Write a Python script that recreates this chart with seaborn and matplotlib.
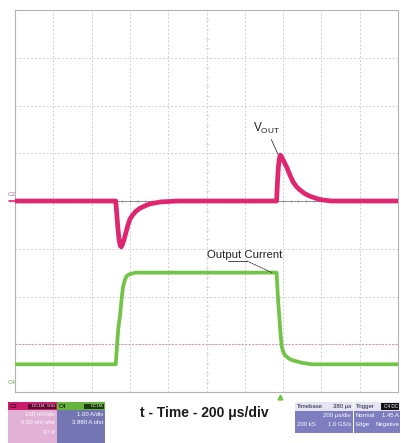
import numpy as np
import pandas as pd
import matplotlib
matplotlib.use("Agg")
import matplotlib.pyplot as plt
import matplotlib.transforms as mtransforms
from matplotlib.patches import Rectangle
import seaborn as sns

# ---------------- data ----------------
# Output voltage deviation (mV, 100 mV/div), time in microseconds (200 us/div)
vout_t = [0, 526, 531, 537, 543, 549, 555, 562, 570, 580, 590, 600, 615, 630, 653, 680,
          705, 760, 850, 1000, 1200, 1366, 1370, 1375, 1380, 1385, 1392, 1400, 1410, 1420,
          1435, 1452, 1470, 1488, 1515, 1540, 1593, 1650, 1800, 2000]
vout_mv = [0, 0, -25, -55, -80, -93, -96, -90, -80, -65, -50, -38, -29, -22, -15, -10,
           -6, -2, 0, 0, 0, 0, 35, 70, 88, 96, 93, 86, 78, 70,
           55, 40, 30, 23, 15, 10, 3, 0, 0, 0]

# Output current (A, 1 A/div)
iout_t = [0, 526, 530, 535, 540, 548, 556, 564, 575, 583, 600, 630, 800, 1000, 1200, 1366,
          1370, 1375, 1380, 1387, 1393, 1400, 1410, 1430, 1452, 1500, 1550, 1800, 2000]
iout_a = [0.08, 0.08, 0.3, 0.6, 0.85, 1.08, 1.42, 1.7, 1.86, 1.93, 1.97, 2.0, 2.0, 2.0, 2.0, 2.0,
          1.7, 1.35, 1.08, 0.7, 0.45, 0.35, 0.27, 0.2, 0.16, 0.11, 0.08, 0.08, 0.08]

vout_label = r"V$_{\mathregular{OUT}}$"
iout_label = "Output Current"
xlabel_text = "t - Time - 200 \u03bcs/div"

ch2_lines = ["100 mV/div", "0.00 mV ofst", "37 #"]
ch4_lines = ["1.00 A/div", "3.880 A ofst"]
timebase_header = ["Timebase", "380 \u03bcs"]
timebase_lines = [("", "200 \u03bcs/div"), ("200 kS", "1.0 GS/s")]
trigger_lines = [("Normal", "1.45 A"), ("Edge", "Negative")]

# ---------------- style ----------------
sns.set_theme(style="white")
plt.rcParams["font.family"] = ["Liberation Sans", "DejaVu Sans"]

PINK = "#e0266f"
GREEN = "#72c447"
W, H = 401, 443

fig = plt.figure(figsize=(W / 100, H / 100), dpi=100)
fig.patch.set_facecolor("white")


def fx(x):
    return x / W


def fy(y):
    return 1 - y / H


ax = fig.add_axes([fx(15), fy(392), 383 / W, 382 / H])
ax.set_facecolor("white")
ax.set_xlim(0, 2000)
ax.set_ylim(-400, 400)
ax.set_xticks(np.arange(0, 2001, 200))
ax.set_yticks(np.arange(-400, 401, 100))
ax.tick_params(length=0, labelbottom=False, labelleft=False)
ax.grid(True, color="#d0d0d0", lw=0.7, ls=(0, (2.0, 2.0)))
for s in ax.spines.values():
    s.set_color("#b4b4b4")
    s.set_linewidth(0.8)

# reference line for channel 2 and pinkish cursor line
ax.axhline(0, color="#8c8c8c", lw=0.7, zorder=1.5)
ax.axhline(-300, color="#d88fb6", lw=0.8, ls=(0, (1.5, 1.5)), zorder=1.5)

# faint minor ticks along the centre lines
mt = np.arange(-400, 401, 20)
ax.plot(np.full(mt.shape, 1000), mt, ls="none", marker="_", ms=2.5, mew=0.5,
        color="#d6d6d6", zorder=1.4)
mx = np.arange(0, 2001, 40)
ax.plot(mx, np.zeros(mx.shape), ls="none", marker="|", ms=2.5, mew=0.5,
        color="#bdbdbd", zorder=1.4)

df_v = pd.DataFrame({"t": vout_t, "v": vout_mv})
sns.lineplot(data=df_v, x="t", y="v", ax=ax, color=PINK, lw=3.4,
             solid_joinstyle="round", zorder=3)
ax.set_xlabel("")
ax.set_ylabel("")

ax2 = ax.twinx()
ax2.set_ylim(-0.5, 7.5)
ax2.set_yticks([])
for s in ax2.spines.values():
    s.set_visible(False)
df_i = pd.DataFrame({"t": iout_t, "i": iout_a})
sns.lineplot(data=df_i, x="t", y="i", ax=ax2, color=GREEN, lw=2.7,
             solid_joinstyle="round", zorder=3)
ax2.set_xlabel("")
ax2.set_ylabel("")
ax2.set_xlim(0, 2000)

# annotations
ax.annotate(vout_label, xy=(1373, 98), xytext=(1243, 144),
            fontsize=8.5, color="#222222", ha="left", va="baseline",
            arrowprops=dict(arrowstyle="-", color="#333333", lw=0.6,
                            shrinkA=0, shrinkB=0, relpos=(0.62, 0.0)))
ax2.text(1003, 2.30, iout_label, fontsize=8.2, color="#222222",
         ha="left", va="baseline")
ax2.annotate("", xy=(1342, 2.0), xytext=(1211, 2.243),
             arrowprops=dict(arrowstyle="-", color="#333333", lw=0.6,
                             ls=(0, (2, 1.2)), shrinkA=0, shrinkB=0))
ax2.plot([1112, 1211], [2.243, 2.243], color="#333333", lw=0.6)

# trigger position marker
trans = mtransforms.blended_transform_factory(ax.transData, ax.transAxes)
ax.plot([1384], [-0.012], marker="^", ms=3.5, color=GREEN, transform=trans,
        clip_on=False, zorder=5)

# channel labels at left
fig.text(fx(8), fy(195), "C2", fontsize=4.5, color="#b07090", va="center")
fig.text(fx(8), fy(383), "C4", fontsize=4.5, color="#70a050", va="center")
fig.add_artist(plt.Line2D([fx(9), fx(15)], [fy(200.5), fy(200.5)],
                          color=PINK, lw=1.2, transform=fig.transFigure))

# ---------------- bottom info panel ----------------
def box(x0, y0, x1, y1, color, ec="none"):
    fig.add_artist(Rectangle((fx(x0), fy(y1)), fx(x1) - fx(x0), fy(y0) - fy(y1),
                             transform=fig.transFigure, facecolor=color,
                             edgecolor=ec, lw=0.4))


SMALL = 4.3
# channel 2 box
box(8, 402, 57, 410, "#c81d6a")
box(8, 410, 57, 443, "#e2b1d6")
fig.text(fx(10), fy(406), "C2", fontsize=SMALL, color="black", va="center")
box(28, 403.5, 56, 409, "#5a0a30")
fig.text(fx(55), fy(406.2), "DC1M  50\u03a9", fontsize=3.2, color="#ffd0e0",
         va="center", ha="right")
for k, s in enumerate(ch2_lines):
    fig.text(fx(55), fy(414 + 9 * k), s, fontsize=SMALL, color="white",
             va="center", ha="right")

# channel 4 box
box(57, 402, 105, 410, "#67b43d")
box(57, 410, 105, 443, "#7476b4")
fig.text(fx(59), fy(406), "C4", fontsize=SMALL, color="black", va="center")
box(84, 403.5, 104, 409, "#1d3a10")
fig.text(fx(103), fy(406.2), "DC1M", fontsize=3.2, color="#d0ffc0",
         va="center", ha="right")
for k, s in enumerate(ch4_lines):
    fig.text(fx(103), fy(415 + 8 * k), s, fontsize=SMALL, color="white",
             va="center", ha="right")

# x-axis caption
fig.text(fx(204), fy(413), xlabel_text, fontsize=10, fontweight="bold",
         color="#1a1a1a", ha="center", va="center")

# timebase box
box(295, 402, 353, 411, "#e4e4f2")
box(295, 411, 353, 433, "#7d7dc0")
fig.text(fx(297), fy(406.5), timebase_header[0], fontsize=SMALL, color="#202040",
         va="center")
fig.text(fx(351), fy(406.5), timebase_header[1], fontsize=SMALL, color="#202040",
         va="center", ha="right")
for k, (l, r) in enumerate(timebase_lines):
    yy = fy(415.5 + 9 * k)
    if l:
        fig.text(fx(297), yy, l, fontsize=SMALL, color="white", va="center")
    fig.text(fx(351), yy, r, fontsize=SMALL, color="white", va="center", ha="right")

# trigger box
box(354, 402, 400, 411, "#e4e4f2")
box(354, 411, 400, 433, "#7d7dc0")
fig.text(fx(356), fy(406.5), "Trigger", fontsize=SMALL, color="#202040", va="center")
box(381, 403, 399, 410, "#111111")
fig.text(fx(398), fy(406.5), "C4 DC", fontsize=3.4, color="white",
         va="center", ha="right")
for k, (l, r) in enumerate(trigger_lines):
    yy = fy(415.5 + 9 * k)
    fig.text(fx(356), yy, l, fontsize=SMALL, color="white", va="center")
    fig.text(fx(399), yy, r, fontsize=SMALL, color="white", va="center", ha="right")

fig.savefig("out.png", dpi=100, facecolor="white")
